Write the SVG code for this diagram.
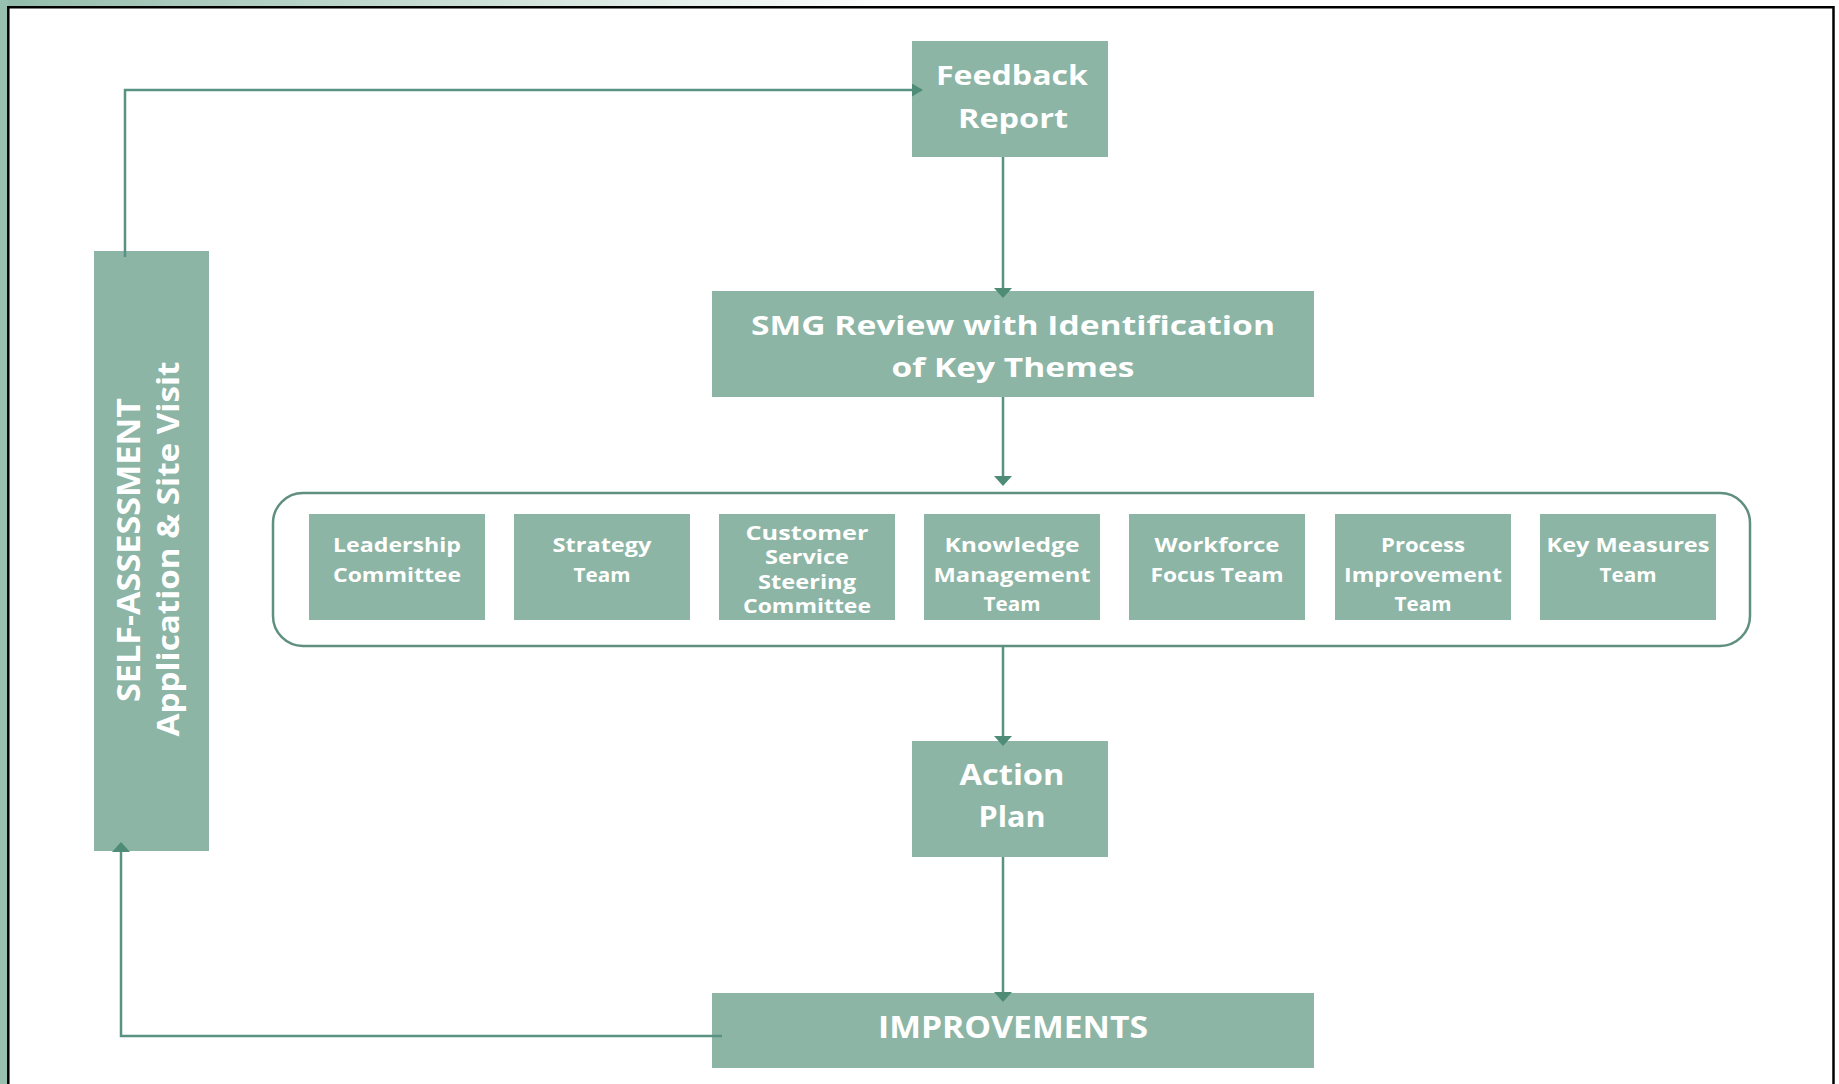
<svg xmlns="http://www.w3.org/2000/svg" width="1839" height="1084" viewBox="0 0 1839 1084">
<defs>
<style>
.box{fill:#8cb5a5}
.t{font-family:"Open Sans","Noto Sans","Liberation Sans",sans-serif;font-weight:700;fill:#ffffff;text-anchor:middle}
.s{font-size:19px}
.c{fill:none;stroke:#5a9282;stroke-width:2.5}
.frame{fill:none;stroke:#000;stroke-width:2.5}
</style>
<linearGradient id="topg" x1="0" y1="0" x2="900" y2="0" gradientUnits="userSpaceOnUse">
<stop offset="0" stop-color="#93bcab"/>
<stop offset="1" stop-color="#ffffff"/>
</linearGradient>
<marker id="av" markerUnits="userSpaceOnUse" markerWidth="13" markerHeight="20" refX="8" refY="9" orient="auto" viewBox="0 0 13 20">
<path d="M0,0 L10,9 L0,18 z" fill="#4e8c77"/>
</marker>
<marker id="ah" markerUnits="userSpaceOnUse" markerWidth="13" markerHeight="14" refX="9" refY="6.5" orient="auto" viewBox="0 0 13 14">
<path d="M0,0 L11,6.5 L0,13 z" fill="#4e8c77"/>
</marker>
</defs>

<rect x="0" y="0" width="1839" height="1084" fill="#ffffff"/>
<rect x="0" y="0" width="1839" height="7" fill="url(#topg)"/>
<rect x="0" y="0" width="8" height="1084" fill="#98c0b0"/>
<path class="frame" d="M8.3,1084 L8.3,7.3 L1833.5,7.3 L1833.5,1084"/>

<g id="node-feedback">
<rect class="box" x="912" y="41" width="196" height="116"/>
<text class="t" x="1012" y="85" font-size="26" textLength="152" lengthAdjust="spacingAndGlyphs">Feedback</text>
<text class="t" x="1013" y="128" font-size="26" textLength="110" lengthAdjust="spacingAndGlyphs">Report</text>
</g>

<g id="node-smg">
<rect class="box" x="712" y="291" width="602" height="106"/>
<text class="t" x="1013" y="335" font-size="27" textLength="524" lengthAdjust="spacingAndGlyphs">SMG Review with Identification</text>
<text class="t" x="1013" y="377" font-size="27" textLength="243" lengthAdjust="spacingAndGlyphs">of Key Themes</text>
</g>

<g id="node-teams">
<rect x="273" y="493" width="1477" height="153" rx="30" ry="30" fill="none" stroke="#5f8f7f" stroke-width="2.5"/>
</g>

<g id="node-leadership">
<rect class="box" x="309" y="514" width="176" height="106"/>
<text class="t s" x="397" y="552" textLength="128" lengthAdjust="spacingAndGlyphs">Leadership</text>
<text class="t s" x="397" y="582" textLength="128" lengthAdjust="spacingAndGlyphs">Committee</text>
</g>

<g id="node-strategy">
<rect class="box" x="514" y="514" width="176" height="106"/>
<text class="t s" x="602" y="552" textLength="99" lengthAdjust="spacingAndGlyphs">Strategy</text>
<text class="t s" x="602" y="582" textLength="57" lengthAdjust="spacingAndGlyphs">Team</text>
</g>

<g id="node-customer">
<rect class="box" x="719" y="514" width="176" height="106"/>
<text class="t s" x="807" y="540" textLength="123" lengthAdjust="spacingAndGlyphs">Customer</text>
<text class="t s" x="807" y="564" textLength="84" lengthAdjust="spacingAndGlyphs">Service</text>
<text class="t s" x="807" y="589" textLength="98" lengthAdjust="spacingAndGlyphs">Steering</text>
<text class="t s" x="807" y="613" textLength="128" lengthAdjust="spacingAndGlyphs">Committee</text>
</g>

<g id="node-knowledge">
<rect class="box" x="924" y="514" width="176" height="106"/>
<text class="t s" x="1012" y="552" textLength="135" lengthAdjust="spacingAndGlyphs">Knowledge</text>
<text class="t s" x="1012" y="582" textLength="157" lengthAdjust="spacingAndGlyphs">Management</text>
<text class="t s" x="1012" y="611" textLength="57" lengthAdjust="spacingAndGlyphs">Team</text>
</g>

<g id="node-workforce">
<rect class="box" x="1129" y="514" width="176" height="106"/>
<text class="t s" x="1217" y="552" textLength="125" lengthAdjust="spacingAndGlyphs">Workforce</text>
<text class="t s" x="1217" y="582" textLength="133" lengthAdjust="spacingAndGlyphs">Focus Team</text>
</g>

<g id="node-process">
<rect class="box" x="1335" y="514" width="176" height="106"/>
<text class="t s" x="1423" y="552" textLength="84" lengthAdjust="spacingAndGlyphs">Process</text>
<text class="t s" x="1423" y="582" textLength="158" lengthAdjust="spacingAndGlyphs">Improvement</text>
<text class="t s" x="1423" y="611" textLength="57" lengthAdjust="spacingAndGlyphs">Team</text>
</g>

<g id="node-keymeasures">
<rect class="box" x="1540" y="514" width="176" height="106"/>
<text class="t s" x="1628" y="552" textLength="163" lengthAdjust="spacingAndGlyphs">Key Measures</text>
<text class="t s" x="1628" y="582" textLength="57" lengthAdjust="spacingAndGlyphs">Team</text>
</g>

<g id="node-action">
<rect class="box" x="912" y="741" width="196" height="116"/>
<text class="t" x="1012" y="785" font-size="28" textLength="105" lengthAdjust="spacingAndGlyphs">Action</text>
<text class="t" x="1012" y="827" font-size="28" textLength="67" lengthAdjust="spacingAndGlyphs">Plan</text>
</g>

<g id="node-improvements">
<rect class="box" x="712" y="993" width="602" height="75"/>
<text class="t" x="1013" y="1038" font-size="30" textLength="270" lengthAdjust="spacingAndGlyphs">IMPROVEMENTS</text>
</g>

<g id="node-selfassessment">
<rect class="box" x="94" y="251" width="115" height="600"/>
<text class="t" transform="translate(140,550) rotate(-90)" x="0" y="0" font-size="32" textLength="304" lengthAdjust="spacingAndGlyphs">SELF-ASSESSMENT</text>
<text class="t" transform="translate(179,549) rotate(-90)" x="0" y="0" font-size="29.5" textLength="375" lengthAdjust="spacingAndGlyphs">Application &amp; Site Visit</text>
</g>

<g id="connectors">
<path class="c" d="M125,257 L125,90 L921,90" marker-end="url(#ah)"/>
<path class="c" d="M1003,157 L1003,296" marker-end="url(#av)"/>
<path class="c" d="M1003,397 L1003,484" marker-end="url(#av)"/>
<path class="c" d="M1003,646 L1003,744" marker-end="url(#av)"/>
<path class="c" d="M1003,857 L1003,1000" marker-end="url(#av)"/>
<path class="c" d="M722,1036 L121,1036 L121,844" marker-end="url(#av)"/>
</g>
</svg>
